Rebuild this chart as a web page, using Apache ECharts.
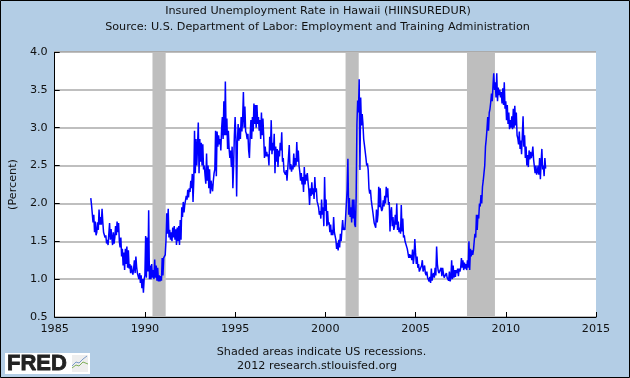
<!DOCTYPE html>
<html>
<head>
<meta charset="utf-8">
<title>Insured Unemployment Rate in Hawaii</title>
<script src="https://cdn.jsdelivr.net/npm/echarts@6/dist/echarts.min.js"></script>
<style>
  html, body { margin: 0; padding: 0; background: #b3cde5; }
  #chart { width: 630px; height: 378px; }
</style>
</head>
<body>
<div id="chart"></div>
<script>
// values, half-monthly steps within each year
var rate1987 = [2.07,1.98,2.0,1.75,1.85,1.62,1.76,1.58,1.62,1.75,1.65,1.92,1.72,1.82,1.72,1.93,1.75,1.62,1.6,1.55,1.58,1.47,1.52,1.45];
var rate1988 = [1.6,1.74,1.52,1.66,1.55,1.45,1.62,1.47,1.55,1.7,1.58,1.76,1.62,1.74,1.5,1.42,1.55,1.3,1.4,1.18,1.35,1.12,1.4,1.2];
var rate1989 = [1.43,1.15,1.38,1.14,1.2,1.08,1.18,1.1,1.06,1.14,1.25,1.08,1.3,1.16,1.08,1.1,1.0,1.08,0.95,1.05,0.88,1.0,0.82,1.0];
var rate1990 = [1.05,1.57,1.02,1.55,1.1,1.91,1.0,1.18,1.0,1.2,1.02,1.12,1.0,1.26,1.02,1.18,0.98,1.15,0.97,1.05,0.97,1.04,0.98,1.28];
var rate1991 = [1.05,1.28,1.27,1.32,1.5,1.87,1.6,1.93,1.55,1.65,1.52,1.62,1.5,1.68,1.55,1.7,1.52,1.66,1.45,1.68,1.5,1.7,1.45,1.78];
var rate1992 = [1.52,1.95,1.82,2.02,1.88,1.98,2.04,2.1,2.05,2.18,2.08,2.2,2.15,2.3,2.2,2.39,2.02,2.3,2.96,2.4,2.85,2.5,2.75,3.07];
var rate1993 = [2.4,2.85,2.55,2.8,2.5,2.78,2.45,2.5,2.37,2.26,2.66,2.3,2.5,2.2,2.45,2.13,2.3,2.22,2.16,2.3,2.4,2.45,2.96,2.36];
var rate1994 = [2.95,2.75,2.9,2.78,2.85,2.7,2.98,3.14,2.85,3.35,2.9,3.61,2.9,3.12,2.72,2.96,2.72,2.6,2.7,2.48,2.75,2.2,2.5,2.9];
var rate1995 = [3.14,2.85,2.09,2.8,3.05,2.83,3.0,2.85,3.14,2.95,3.12,3.47,3.0,3.28,2.95,2.92,2.85,2.92,2.7,2.6,2.9,3.1,2.85,3.14];
var rate1996 = [2.95,3.32,3.05,3.3,3.0,3.3,3.05,3.14,2.96,3.1,2.85,3.2,2.9,3.12,2.88,2.6,2.75,2.62,2.68,2.62,2.65,2.5,2.88,2.7];
var rate1997 = [3.1,2.65,2.8,2.7,2.92,2.4,2.75,2.55,2.72,2.48,2.7,2.62,2.8,2.7,2.94,2.55,2.6,2.42,2.44,2.38,2.44,2.3,2.3,2.28];
var rate1998 = [2.77,2.45,2.52,2.42,2.5,2.45,2.66,2.48,2.6,2.5,2.81,2.55,2.7,2.5,2.42,2.3,2.4,2.25,2.35,2.15,2.48,2.25,2.38,2.3];
var rate1999 = [2.4,2.28,2.18,1.98,2.2,2.1,2.28,2.12,2.2,2.06,2.35,2.15,2.2,2.03,2.05,1.95,1.85,1.9,1.8,2.05,1.85,1.95,1.7,2.35];
var rate2000 = [1.9,2.05,1.7,1.9,1.72,1.75,1.62,1.72,1.58,1.65,1.58,1.82,1.62,1.6,1.52,1.4,1.48,1.38,1.52,1.42,1.6,1.5,1.65,1.78];
var rate2001 = [1.65,1.68,1.65,1.66,1.65,2.18,2.59,1.85,2.07,1.82,1.95,1.75,2.05,1.8,2.05,1.72,1.69,2.1,3.05,3.36,3.2,3.64,2.44,3.4];
var rate2002 = [3.03,3.18,3.05,2.85,2.77,2.75,2.6,2.5,2.53,2.44,2.2,2.13,2.18,2.05,1.97,1.9,1.82,1.74,1.76,1.68,1.92,1.75,1.85,2.22];
var rate2003 = [1.95,2.2,1.95,1.9,1.93,2.04,1.96,2.1,2.0,2.22,2.08,2.2,1.98,2.02,1.63,1.88,1.95,1.7,1.82,1.65,1.69,1.85,1.72,2.0];
var rate2004 = [1.65,1.76,1.62,1.68,1.6,1.98,1.63,1.8,1.55,1.58,1.5,1.52,1.5,1.4,1.34,1.28,1.33,1.28,1.32,1.25,1.39,1.2,1.3,1.53];
var rate2005 = [1.35,1.2,1.3,1.15,1.2,1.1,1.12,1.08,1.18,1.25,1.1,1.08,1.18,1.08,1.05,1.1,1.02,1.0,0.97,1.03,0.95,1.14,0.98,1.05];
var rate2006 = [1.08,1.02,1.15,1.05,1.43,1.2,1.12,1.08,1.1,1.06,1.15,1.04,1.15,1.08,1.02,1.0,1.04,1.08,1.02,1.0,0.98,1.1,0.97,1.02];
var rate2007 = [1.25,1.0,1.18,1.02,1.12,1.03,1.12,1.08,1.14,1.04,1.14,1.1,1.15,1.28,1.15,1.25,1.12,1.22,1.14,1.2,1.12,1.25,1.15,1.5];
var rate2008 = [1.12,1.4,1.3,1.38,1.32,1.38,1.5,1.6,1.55,1.85,1.65,1.85,1.8,2.0,1.96,2.11,2.0,2.22,2.3,2.4,2.5,2.75,2.85,2.98];
var rate2009 = [3.14,2.96,3.2,3.25,3.34,3.45,3.35,3.56,3.72,3.5,3.6,3.4,3.72,3.35,3.53,3.43,3.5,3.4,3.47,3.32,3.52,3.3,3.6,3.25];
var rate2010 = [3.35,3.1,3.3,3.05,3.2,2.98,3.1,3.0,3.15,2.98,3.25,3.0,3.29,3.03,3.2,2.9,2.86,2.78,2.95,2.72,2.83,2.65,2.9,3.15];
var rate2011 = [2.75,2.9,2.6,2.75,2.5,2.64,2.48,2.7,2.58,2.68,2.6,2.65,2.75,2.58,2.6,2.4,2.5,2.38,2.42,2.5,2.38,2.6,2.32,2.55];
var rate2012 = [2.72,2.45,2.5,2.36,2.6,2.46];

var rateYears = [1987,1988,1989,1990,1991,1992,1993,1994,1995,1996,1997,1998,1999,2000,2001,2002,2003,2004,2005,2006,2007,2008,2009,2010,2011,2012];
var rateByYear = [rate1987,rate1988,rate1989,rate1990,rate1991,rate1992,rate1993,rate1994,rate1995,rate1996,rate1997,rate1998,rate1999,rate2000,rate2001,rate2002,rate2003,rate2004,rate2005,rate2006,rate2007,rate2008,rate2009,rate2010,rate2011,rate2012];

var recessionStart = [1990.42, 2001.12, 2007.85];
var recessionEnd = [1991.15, 2001.85, 2009.4];

var titleLine1 = 'Insured Unemployment Rate in Hawaii (HIINSUREDUR)';
var titleLine2 = 'Source: U.S. Department of Labor: Employment and Training Administration';
var footLine1 = 'Shaded areas indicate US recessions.';
var footLine2 = '2012 research.stlouisfed.org';
var yName = '(Percent)';

var lineData = [];
rateYears.forEach(function (y, k) {
  rateByYear[k].forEach(function (v, i) {
    lineData.push([y + i / 24, v]);
  });
});

var bands = recessionStart.map(function (s, i) {
  return [{ xAxis: s }, { xAxis: recessionEnd[i] }];
});

var textFont = '"DejaVu Sans", sans-serif';
var textColor = '#111';
var textSize = 11.2;

var mychart = echarts.init(document.getElementById('chart'), null, { renderer: 'canvas' });

var option = {
  animation: false,
  backgroundColor: '#b3cde5',
  grid: { left: 54, right: 34, top: 52, bottom: 61, show: false },
  xAxis: {
    type: 'value',
    min: 1985,
    max: 2015,
    interval: 5,
    axisLine: { show: true, onZero: false, lineStyle: { color: '#000', width: 1 } },
    axisTick: { show: true, inside: true, length: 5, lineStyle: { color: '#000', width: 1 } },
    axisLabel: {
      color: textColor, fontFamily: textFont, fontSize: textSize, margin: 7,
      formatter: function (v) { return String(v); }
    },
    splitLine: { show: false }
  },
  yAxis: {
    type: 'value',
    min: 0.5,
    max: 4,
    interval: 0.5,
    name: yName,
    nameLocation: 'middle',
    nameGap: 35,
    nameTextStyle: { color: textColor, fontFamily: textFont, fontSize: textSize },
    axisLine: { show: true, lineStyle: { color: '#000', width: 1 } },
    axisTick: { show: true, inside: true, length: 5, lineStyle: { color: '#000', width: 1 } },
    axisLabel: {
      color: textColor, fontFamily: textFont, fontSize: textSize, margin: 7,
      formatter: function (v) { return v.toFixed(1); }
    },
    splitLine: { show: true, lineStyle: { color: '#aaaaaa', width: 1.5 } }
  },
  series: [{
    type: 'line',
    data: lineData,
    showSymbol: false,
    smooth: false,
    lineStyle: { color: '#0000ff', width: 1.5 },
    markArea: {
      silent: true,
      itemStyle: { color: '#bebebe', opacity: 1 },
      data: bands
    }
  }],
  graphic: [
    { type: 'rect', z: -1, shape: { x: 54, y: 52, width: 542, height: 265 }, style: { fill: '#fff' } },
    { type: 'rect', z: 100, shape: { x: 0.5, y: 0.5, width: 629, height: 377 }, style: { fill: 'none', stroke: '#000', lineWidth: 1 } },
    { type: 'line', z: 100, shape: { x1: 54, y1: 51.5, x2: 596, y2: 51.5 }, style: { stroke: '#aaa', lineWidth: 1 } },
    { type: 'text', style: { x: 318, y: 11, text: titleLine1, fill: textColor, font: textSize + 'px ' + textFont, textAlign: 'center', textVerticalAlign: 'middle' } },
    { type: 'text', style: { x: 317.5, y: 27, text: titleLine2, fill: textColor, font: textSize + 'px ' + textFont, textAlign: 'center', textVerticalAlign: 'middle' } },
    { type: 'text', style: { x: 321.5, y: 352, text: footLine1, fill: textColor, font: textSize + 'px ' + textFont, textAlign: 'center', textVerticalAlign: 'middle' } },
    { type: 'text', style: { x: 317, y: 366, text: footLine2, fill: textColor, font: textSize + 'px ' + textFont, textAlign: 'center', textVerticalAlign: 'middle' } },
    // FRED logo
    { type: 'rect', shape: { x: 5, y: 353, width: 85, height: 21 }, style: { fill: '#fff' } },
    { type: 'text', style: { x: 7, y: 364, text: 'FRED', fill: '#222', stroke: '#222', lineWidth: 0.8, font: 'bold 22px "Liberation Sans", sans-serif', textVerticalAlign: 'middle' } },
    { type: 'rect', shape: { x: 72, y: 355, width: 16, height: 17 }, style: { fill: '#eeeeee' } },
    { type: 'polyline', shape: { points: [[72, 368], [76, 365], [79, 366], [83, 362], [88, 364]] }, style: { stroke: '#7fae5a', lineWidth: 1, fill: 'none' } },
    { type: 'polyline', shape: { points: [[72, 366], [76, 362], [79, 363], [83, 359], [87, 356]] }, style: { stroke: '#7d9cc8', lineWidth: 1, fill: 'none' } }
  ]
};

mychart.setOption(option);
</script>
</body>
</html>
